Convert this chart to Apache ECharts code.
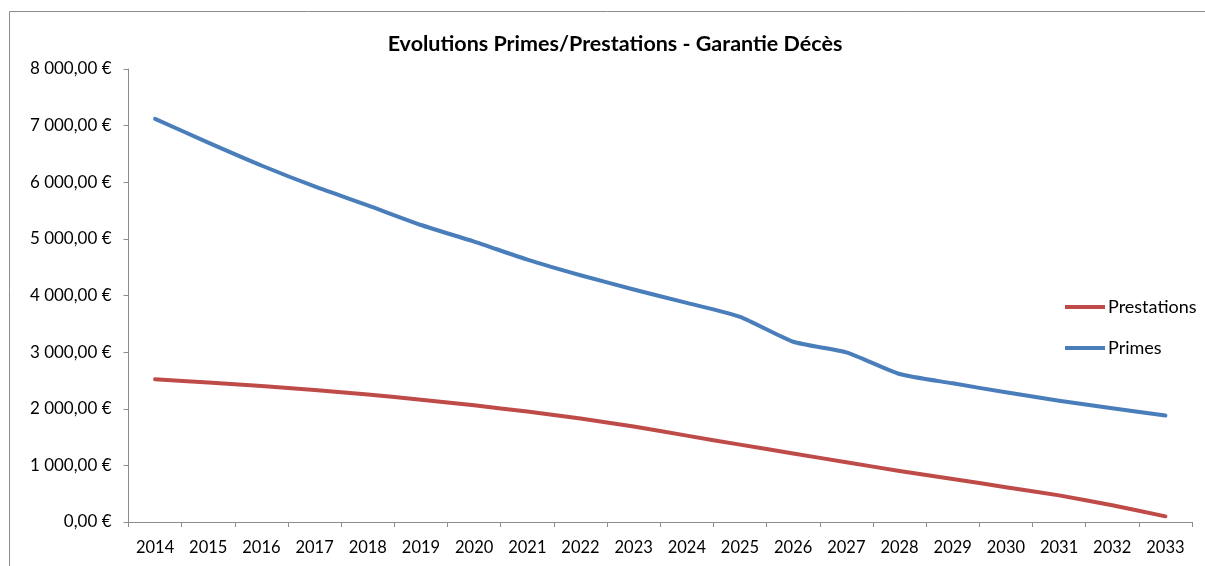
<!DOCTYPE html>
<html>
<head>
<meta charset="utf-8">
<script src="https://cdn.jsdelivr.net/npm/echarts@6/dist/echarts.min.js"></script>
<style>
  html, body { margin: 0; padding: 0; background: #ffffff; }
  #chart { width: 1205px; height: 566px; }
</style>
</head>
<body>
<div id="chart"></div>
<script>
// Years covered by the projection
const years = ['2014', '2015', '2016', '2017', '2018', '2019', '2020', '2021', '2022', '2023',
               '2024', '2025', '2026', '2027', '2028', '2029', '2030', '2031', '2032', '2033'];

// Benefits paid (€)
const prestations = [2520, 2465, 2402, 2333, 2252, 2160, 2060, 1950, 1828, 1685,
                     1525, 1366, 1210, 1055, 901, 759, 615, 470, 296, 100];

// Premiums collected (€)
const primes = [7120, 6700, 6296, 5926, 5591, 5245, 4952, 4634, 4358, 4106,
                3870, 3623, 3183, 2996, 2613, 2449, 2290, 2143, 2009, 1879];

// Value axis range and step
const yMin = 0;
const yMax = 8000;
const yStep = 1000;

const FONT = 'Lato, "Open Sans", sans-serif';

// French currency format: "8 000,00 €"
function euro(v) {
  const fixed = v.toFixed(2).split('.');
  const intPart = fixed[0].replace(/\B(?=(\d{3})+(?!\d))/g, ' ');
  return intPart + ',' + fixed[1] + ' €';
}

const chart = echarts.init(document.getElementById('chart'), null, { renderer: 'canvas' });

chart.setOption({
  backgroundColor: '#ffffff',
  animation: false,
  title: {
    text: 'Evolutions Primes/Prestations - Garantie Décès',
    left: 610,
    textAlign: 'center',
    top: 28,
    textStyle: { fontFamily: FONT, fontSize: 21.5, fontWeight: 'bold', color: '#000000' }
  },
  graphic: [{
    type: 'rect',
    shape: { x: 9.5, y: 11.5, width: 1300, height: 700 },
    style: { fill: 'none', stroke: '#8c8c8c', lineWidth: 1 },
    silent: true,
    z: -1
  }],
  legend: {
    orient: 'vertical',
    left: 1060,
    top: 293,
    itemWidth: 40,
    itemHeight: 4,
    itemGap: 23,
    icon: 'rect',
    data: ['Prestations', 'Primes'],
    textStyle: { fontFamily: FONT, fontSize: 18, color: '#000000', padding: [0, 0, 0, -2] }
  },
  grid: { left: 128.5, right: 13, top: 69, bottom: 44, containLabel: false },
  xAxis: {
    type: 'category',
    data: years,
    boundaryGap: true,
    axisLine: { lineStyle: { color: '#8c8c8c', width: 1 } },
    axisTick: { show: true, length: 5, alignWithLabel: false, lineStyle: { color: '#8c8c8c' } },
    axisLabel: { fontFamily: FONT, fontSize: 16.5, color: '#000000', margin: 17, interval: 0 },
    splitLine: { show: false }
  },
  yAxis: {
    type: 'value',
    min: yMin,
    max: yMax,
    interval: yStep,
    axisLine: { show: true, lineStyle: { color: '#8c8c8c', width: 1 } },
    axisTick: { show: true, length: 5, lineStyle: { color: '#8c8c8c' } },
    axisLabel: { fontFamily: FONT, fontSize: 17, color: '#000000', margin: 17, formatter: euro },
    splitLine: { show: false }
  },
  series: [
    {
      name: 'Prestations',
      type: 'line',
      data: prestations,
      symbol: 'none',
      smooth: 0.2,
      lineStyle: { color: '#be4b48', width: 4, cap: 'round', join: 'round' },
      itemStyle: { color: '#be4b48' }
    },
    {
      name: 'Primes',
      type: 'line',
      data: primes,
      symbol: 'none',
      smooth: 0.2,
      lineStyle: { color: '#4a7ebb', width: 4, cap: 'round', join: 'round' },
      itemStyle: { color: '#4a7ebb' }
    }
  ]
});
</script>
</body>
</html>
